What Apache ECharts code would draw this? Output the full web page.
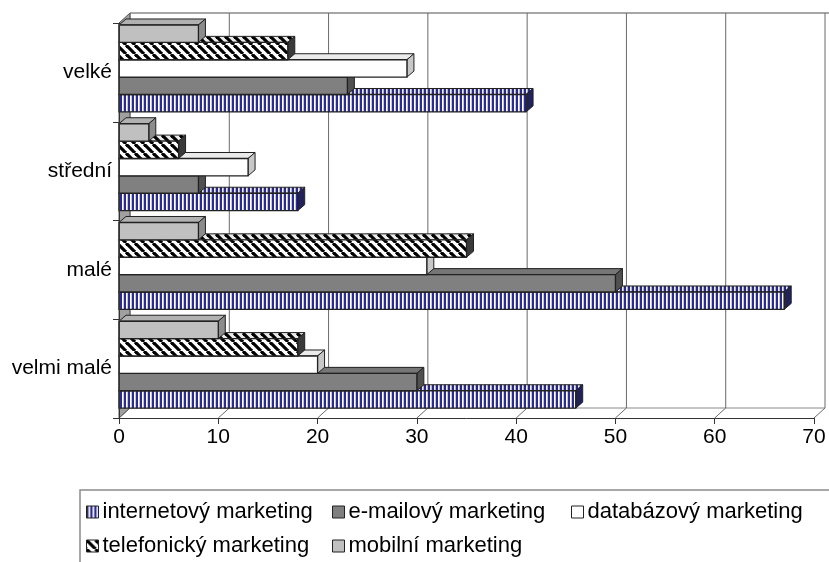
<!DOCTYPE html>
<html><head><meta charset="utf-8">
<script src="https://cdn.jsdelivr.net/npm/echarts@6/dist/echarts.min.js"></script>
<style>html,body{margin:0;padding:0;background:#fff}#c{width:829px;height:562px}</style>
</head><body><div id="c"></div>
<script>
// ---- data ----
const categories = ['velmi malé', 'malé', 'střední', 'velké'];
const seriesNames = ['internetový marketing', 'e-mailový marketing', 'databázový marketing', 'telefonický marketing', 'mobilní marketing'];
const internetovy = [46, 67, 18, 41];
const emailovy = [30, 50, 8, 23];
const databazovy = [20, 31, 13, 29];
const telefonicky = [18, 35, 6, 17];
const mobilni = [10, 8, 3, 8];
const xTicks = [0, 10, 20, 30, 40, 50, 60, 70];

const seriesValues = [internetovy, emailovy, databazovy, telefonicky, mobilni];

// ---- patterns ----
function makeCanvas(w, h, draw) { const c = document.createElement('canvas'); c.width = w; c.height = h; draw(c.getContext('2d'), w, h); return c; }
const stripeCanvas = makeCanvas(4, 4, g => {
  g.fillStyle = '#ffffff'; g.fillRect(0, 0, 4, 4);
  g.fillStyle = '#2b2b95'; g.fillRect(0, 0, 2, 4);
  g.fillStyle = '#c4c4e4'; g.fillRect(3, 0, 1, 4);
});
const hatchCanvas = makeCanvas(9, 9, g => {
  g.fillStyle = '#ffffff'; g.fillRect(0, 0, 9, 9);
  g.strokeStyle = '#000'; g.lineWidth = 3.2;
  for (const o of [-9, 0, 9]) { g.beginPath(); g.moveTo(o, 0); g.lineTo(o + 9, 9); g.stroke(); }
});
const fills = [
  { image: stripeCanvas, repeat: 'repeat' },
  '#808080',
  '#ffffff',
  { image: hatchCanvas, repeat: 'repeat' },
  '#c0c0c0'
];
const sideFills = ['#22225a', '#505050', '#c8c8c8', '#3a3a3a', '#8c8c8c'];

const DX = 11, DY = -10;   // wall/floor depth
const BDX = 7, BDY = -6;   // bar depth

function barRender(si) {
  return function (params, api) {
    const v = api.value(0), cat = api.value(1);
    const p0 = api.coord([0, cat]);
    const p1 = api.coord([v, cat]);
    const band = api.size([0, 1])[1];
    const t = band * 0.176;
    const groupBottom = p0[1] - band / 2 + band * 0.9;
    const yTop = groupBottom - (si + 1) * t;
    const x0 = p0[0], x1 = p1[0];
    const fill = fills[si];
    return {
      type: 'group',
      children: [
        { type: 'polygon', shape: { points: [[x0, yTop], [x0 + BDX, yTop + BDY], [x1 + BDX, yTop + BDY], [x1, yTop]] },
          style: { fill: fill, stroke: '#222', lineWidth: 1 } },
        { type: 'polygon', shape: { points: [[x0, yTop], [x0 + BDX, yTop + BDY], [x1 + BDX, yTop + BDY], [x1, yTop]] },
          style: { fill: 'rgba(0,0,0,0.08)' } },
        { type: 'polygon', shape: { points: [[x1, yTop], [x1 + BDX, yTop + BDY], [x1 + BDX, yTop + t + BDY], [x1, yTop + t]] },
          style: { fill: sideFills[si], stroke: '#222', lineWidth: 1 } },
        { type: 'rect', shape: { x: x0, y: yTop, width: x1 - x0, height: t },
          style: { fill: fill, stroke: '#222', lineWidth: 1.3 } }
      ]
    };
  };
}

function frameRender(params, api) {
  const cs = params.coordSys;
  const top = cs.y, bottom = cs.y + cs.height, left = cs.x, right = cs.x + cs.width;
  const v = api.value(0);
  const x = api.coord([v, 0])[0];
  const children = [];
  if (params.dataIndex === 0) {
    children.push({ type: 'polygon', shape: { points: [[left, top], [left + DX, top + DY], [left + DX, bottom + DY], [left, bottom]] },
      style: { fill: '#a0a0a0', stroke: '#555', lineWidth: 1 } });
    children.push({ type: 'line', shape: { x1: left + DX, y1: top + DY, x2: right + DX + 10, y2: top + DY },
      style: { stroke: '#8a8a8a', lineWidth: 1.5 } });
    children.push({ type: 'line', shape: { x1: left + DX, y1: bottom + DY, x2: right + DX, y2: bottom + DY },
      style: { stroke: '#8a8a8a', lineWidth: 1 } });
  }
  children.push({ type: 'line', shape: { x1: x + DX, y1: top + DY, x2: x + DX, y2: bottom + DY },
    style: { stroke: '#6a6a6a', lineWidth: 1 } });
  children.push({ type: 'line', shape: { x1: x, y1: bottom, x2: x + DX, y2: bottom + DY },
    style: { stroke: '#6a6a6a', lineWidth: 1 } });
  return { type: 'group', children: children };
}

const series = [{
  type: 'custom', name: '__frame', z: 1, silent: true,
  data: xTicks.map(v => [v, 0]),
  renderItem: frameRender,
  encode: { x: 0, y: 1 }
}];
seriesValues.forEach((vals, si) => {
  series.push({
    type: 'custom', name: seriesNames[si], z: 2 + si,
    data: vals.map((v, j) => [v, j]),
    renderItem: barRender(si),
    encode: { x: 0, y: 1 },
    itemStyle: { color: fills[si], borderColor: '#222', borderWidth: 1 }
  });
});

const legendPos = [[86, 501], [332, 501], [571, 501], [86, 535], [332, 535]];
const legends = seriesNames.map((n, i) => ({
  data: [n], left: legendPos[i][0], top: legendPos[i][1], padding: 0,
  icon: 'rect', itemWidth: 12, itemHeight: 12, itemGap: 0,
  itemStyle: { borderColor: '#222', borderWidth: 1 },
  textStyle: { fontSize: 22, color: '#000', fontFamily: 'Liberation Sans, Arial, sans-serif', lineHeight: 22, padding: [0, 0, 0, -1] },
  selectedMode: false
}));

const chart = echarts.init(document.getElementById('c'), null, { renderer: 'canvas' });
chart.setOption({
  animation: false,
  backgroundColor: '#fff',
  textStyle: { fontFamily: 'Liberation Sans, Arial, sans-serif' },
  grid: { left: 119, right: 15, top: 23, bottom: 144, containLabel: false },
  xAxis: {
    type: 'value', min: 0, max: 70, interval: 10, z: 20,
    axisLine: { show: true, lineStyle: { color: '#333', width: 1 } },
    axisTick: { show: true, length: 6, lineStyle: { color: '#333' } },
    axisLabel: { fontSize: 21, color: '#000', margin: 9 },
    splitLine: { show: false }
  },
  yAxis: {
    type: 'category', data: categories, z: 20,
    axisLine: { show: true, lineStyle: { color: '#333', width: 1 } },
    axisTick: { show: true, length: 6, lineStyle: { color: '#333' } },
    axisLabel: { fontSize: 21, color: '#000', margin: 7 },
    splitLine: { show: false }
  },
  legend: legends,
  graphic: [{
    type: 'polyline', silent: true,
    shape: { points: [[829, 490], [80, 490], [80, 562]] },
    style: { stroke: '#8a8a8a', lineWidth: 1.5, fill: 'none' }
  }],
  series: series
});
</script>
</body></html>
